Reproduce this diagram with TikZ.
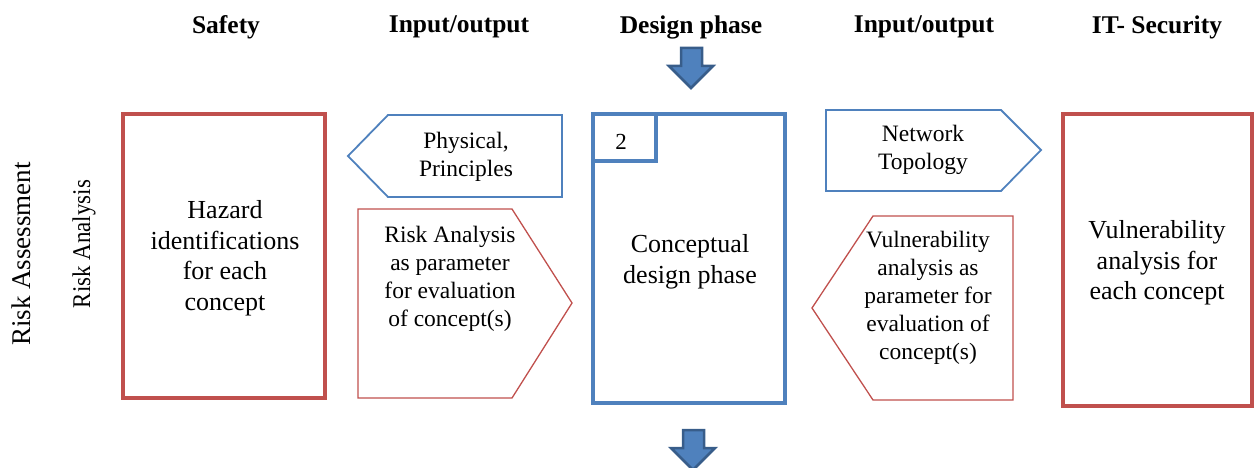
\documentclass[tikz,border=0pt]{standalone}
\usepackage{fontspec}
\setmainfont{Liberation Serif}
\definecolor{myred}{HTML}{C0504D}
\definecolor{myblue}{HTML}{4F81BD}
\definecolor{mydark}{HTML}{385D8A}
\begin{document}
\begin{tikzpicture}[x=1pt,y=-1pt,
  head/.style={font=\fontsize{25.5}{28}\selectfont\bfseries},
  big/.style={align=center,font=\fontsize{26}{30.5}\selectfont},
  small/.style={align=center,font=\fontsize{23.5}{28}\selectfont},
  side/.style={rotate=90},
  redbox/.style={draw=myred,line width=4pt},
  bluebox/.style={draw=myblue,line width=4pt},
  redpent/.style={draw=myred,line width=1.3pt,line join=miter},
  bluepent/.style={draw=myblue,line width=1.8pt,line join=miter},
  blockarrow/.style={fill=myblue,draw=mydark,line width=2.5pt,line join=miter}
]
\useasboundingbox (0,0) rectangle (1255,468);

% headers
\node[head] (h1) at (226,27) {Safety};
\node[head] (h2) at (459,27) {Input/output};
\node[head] (h3) at (691,27) {Design phase};
\node[head] (h4) at (924,27) {Input/output};
\node[head] (h5) at (1157,27) {IT- Security};

% side labels
\node[side,font=\fontsize{27}{30}\selectfont] (ra1) at (21,254) {Risk Assessment};
\node[side,font=\fontsize{25.5}{30}\selectfont] (ra2) at (84,244) {\scalebox{0.9}[1]{Risk Analysis}};

% block arrows
\draw[blockarrow] (681,48) -- (702,48) -- (702,66) -- (713,66) -- (691,88) -- (669,66) -- (681,66) -- cycle;
\draw[blockarrow] (683,430) -- (704,430) -- (704,448) -- (715,448) -- (693,470) -- (671,448) -- (683,448) -- cycle;

% hazard box
\draw[redbox] (123,114) rectangle (325,398);
\node[big] (haz) at (225,258) {Hazard\\identifications\\for each\\concept};

% physical principles pentagon
\draw[bluepent] (348,156) -- (388,115) -- (562,115) -- (562,197) -- (388,197) -- cycle;
\node[small] (phys) at (466,157) {Physical,\\Principles};

% risk analysis pentagon
\draw[redpent] (358,209) -- (512,209) -- (572,303) -- (512,398) -- (358,398) -- cycle;
\node[small] (ra) at (450,279) {Risk Analysis\\as parameter\\for evaluation\\of concept(s)};

% central box
\draw[bluebox] (593,114) rectangle (785,403);
\draw[bluebox] (593,114) rectangle (656,161);
\node[font=\fontsize{23}{26}\selectfont] (two) at (621,142) {2};
\node[big] (cdp) at (690,262) {Conceptual\\design phase};

% network topology pentagon
\draw[bluepent] (826,110) -- (1001,110) -- (1041,150) -- (1001,191) -- (826,191) -- cycle;
\node[small] (net) at (923,150) {Network\\Topology};

% vulnerability pentagon
\draw[redpent] (812,308) -- (873,216) -- (1013,216) -- (1013,400) -- (873,400) -- cycle;
\node[small] (vul) at (928,298) {Vulnerability\\analysis as\\parameter for\\evaluation of\\concept(s)};

% IT security box
\draw[redbox] (1063,114) rectangle (1252,406);
\node[big] (itv) at (1157,263) {Vulnerability\\analysis for\\each concept};
\end{tikzpicture}
\end{document}
